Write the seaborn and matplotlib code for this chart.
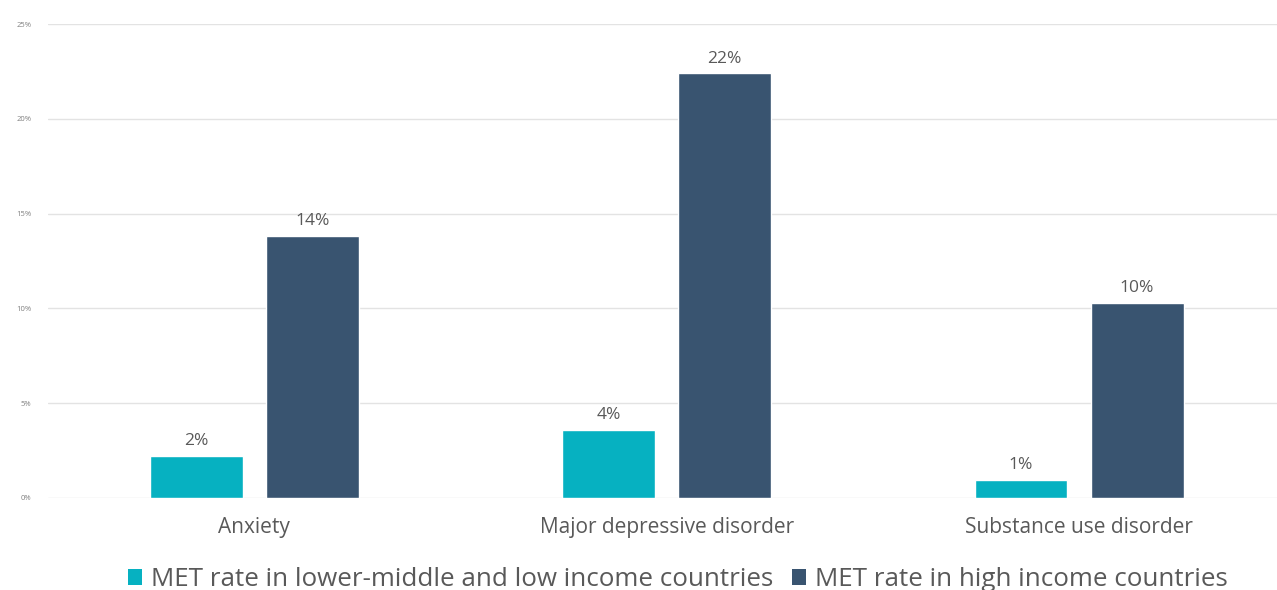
import matplotlib
matplotlib.use("Agg")
import matplotlib.pyplot as plt
import seaborn as sns
import pandas as pd
from matplotlib.patches import Patch

# Minimally adequate treatment (MET) rates by disorder and country income group
categories = ["Anxiety", "Major depressive disorder", "Substance use disorder"]
low_income = [2.2, 3.6, 0.95]
high_income = [13.8, 22.4, 10.3]
series_names = ["MET rate in lower-middle and low income countries",
                "MET rate in high income countries"]
y_ticks = [0, 5, 10, 15, 20, 25]

colors = ["#06B1C1", "#395470"]

df = pd.DataFrame({
    "disorder": categories * 2,
    "group": [series_names[0]] * 3 + [series_names[1]] * 3,
    "rate": low_income + high_income,
})

sns.set_theme(style="white")
plt.rcParams["font.family"] = ["Open Sans", "DejaVu Sans"]

fig = plt.figure(figsize=(12.77, 5.90), dpi=100)
ax = fig.add_axes([0.0376, 0.156, 0.9624, 0.803])

sns.barplot(data=df, x="disorder", y="rate", hue="group", order=categories,
            hue_order=series_names, palette=colors, width=0.563, gap=0.2,
            saturation=1, errorbar=None, legend=False, ax=ax)

for container in ax.containers:
    ax.bar_label(container, labels=[f"{v:.0f}%" for v in container.datavalues],
                 padding=5, fontsize=12.5, color="#595959")

ax.set_ylim(0, 25)
ax.set_xlim(-0.5, 2.48)
ax.set_yticks(y_ticks)
ax.set_yticklabels([f"{t}%" for t in y_ticks], fontsize=5.5, color="#7f7f7f")
ax.tick_params(axis="y", length=0, pad=12)
ax.tick_params(axis="x", length=0, pad=14, labelsize=15, labelcolor="#595959")
ax.yaxis.grid(True, color="#e3e3e3", linewidth=1)
ax.set_axisbelow(True)
for s in ax.spines.values():
    s.set_visible(False)
ax.set_xlabel("")
ax.set_ylabel("")

handles = [Patch(facecolor=c, edgecolor="none") for c in colors]
fig.legend(handles, series_names, loc="center", bbox_to_anchor=(0.531, 0.018),
           ncol=2, frameon=False, fontsize=18.7, handlelength=0.55,
           handleheight=0.55, handletextpad=0.35, columnspacing=0.7,
           labelcolor="#595959")

fig.savefig("out.png", dpi=100, facecolor="white")
